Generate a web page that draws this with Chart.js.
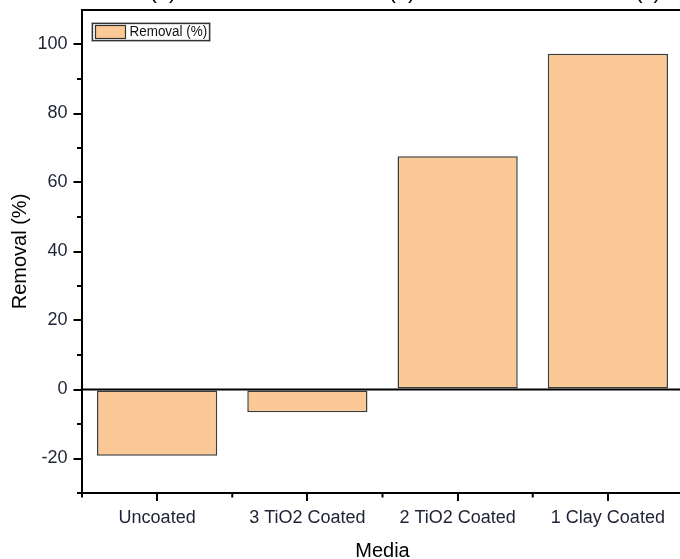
<!DOCTYPE html>
<html>
<head>
<meta charset="utf-8">
<script src="https://cdn.jsdelivr.net/npm/chart.js@4"></script>
<style>
  html, body { margin: 0; padding: 0; background: #fff; overflow: hidden; }
  #wrap { position: absolute; left: 0; top: 0; width: 690px; height: 570px; }
</style>
</head>
<body>
<div id="wrap"><canvas id="c"></canvas></div>
<script>
// ---- data ----
const categories = ['Uncoated', '3 TiO2 Coated', '2 TiO2 Coated', '1 Clay Coated'];
const removal = [-19.2, -6.6, 67.6, 97.3];
const seriesName = 'Removal (%)';
const yMajorTicks = [-20, 0, 20, 40, 60, 80, 100];
const yMinorTicks = [-30, -10, 10, 30, 50, 70, 90];
const yMin = -30, yMax = 110;
const panelLabels = ['(a)', '(b)', '(c)'];

const FONT = 'Arial, "Liberation Sans", sans-serif';
const BAR_FILL = '#FBC995';
const BAR_EDGE = '#3c3c3c';

const extras = {
  id: 'extras',
  afterDatasetsDraw(chart) {
    const ctx = chart.ctx, ca = chart.chartArea;
    const x = chart.scales.x, y = chart.scales.y;
    ctx.save();
    // zero line
    ctx.strokeStyle = '#000'; ctx.lineWidth = 2;
    const y0 = y.getPixelForValue(0);
    ctx.beginPath(); ctx.moveTo(ca.left, y0); ctx.lineTo(ca.right, y0); ctx.stroke();
    // top frame line
    ctx.beginPath(); ctx.moveTo(ca.left - 1, ca.top); ctx.lineTo(ca.right + 10, ca.top); ctx.stroke();
    // minor y ticks
    yMinorTicks.forEach(v => {
      const py = y.getPixelForValue(v);
      ctx.beginPath(); ctx.moveTo(ca.left - 5, py); ctx.lineTo(ca.left, py); ctx.stroke();
    });
    // minor x ticks at category boundaries
    for (let i = 0; i <= categories.length; i++) {
      const px = x.getPixelForValue(i - 0.5);
      ctx.beginPath(); ctx.moveTo(px, ca.bottom); ctx.lineTo(px, ca.bottom + 4.5); ctx.stroke();
    }
    // legend
    const lx = ca.left + 10.5, ly = ca.top + 13.5, lw = 117, lh = 17;
    ctx.strokeStyle = '#c8c8c8'; ctx.lineWidth = 1;
    ctx.strokeRect(lx - 1, ly - 1, lw + 2, lh + 2);
    ctx.strokeStyle = '#333'; ctx.lineWidth = 1.3;
    ctx.fillStyle = '#fff';
    ctx.fillRect(lx, ly, lw, lh);
    ctx.strokeRect(lx, ly, lw, lh);
    ctx.fillStyle = BAR_FILL;
    ctx.fillRect(lx + 3, ly + 2, 30, 13);
    ctx.strokeStyle = '#333'; ctx.lineWidth = 1.2;
    ctx.strokeRect(lx + 3, ly + 2, 30, 13);
    ctx.fillStyle = '#111';
    ctx.font = '14px ' + FONT;
    ctx.textBaseline = 'middle'; ctx.textAlign = 'left';
    ctx.save();
    ctx.translate(lx + 37, ly + lh / 2 + 0.5);
    ctx.scale(0.96, 1);
    ctx.fillText(seriesName, 0, 0);
    ctx.restore();
    // clipped panel labels at the very top
    ctx.fillStyle = '#000';
    ctx.font = '22px ' + FONT;
    ctx.textAlign = 'center'; ctx.textBaseline = 'alphabetic';
    const pxs = [163, 402, 648];
    panelLabels.forEach((t, i) => ctx.fillText(t, pxs[i], -2));
    ctx.restore();
  }
};

new Chart(document.getElementById('c'), {
  type: 'bar',
  data: {
    labels: categories,
    datasets: [{
      label: seriesName,
      data: removal,
      backgroundColor: BAR_FILL,
      borderColor: BAR_EDGE,
      borderWidth: 1.5,
      borderSkipped: false,
      barPercentage: 0.8,
      categoryPercentage: 1.0
    }]
  },
  options: {
    responsive: true,
    maintainAspectRatio: false,
    animation: false,
    devicePixelRatio: 1,
    layout: { padding: { top: 10, left: 0, right: 7, bottom: 0 } },
    plugins: { legend: { display: false }, tooltip: { enabled: false } },
    scales: {
      x: {
        offset: true,
        afterFit(s) { s.height = 77; s.paddingLeft = 0; s.paddingRight = 0; },
        grid: { offset: false, drawOnChartArea: false, drawTicks: true, tickLength: 8, color: '#000', lineWidth: 2 },
        border: { display: true, color: '#000', width: 2 },
        ticks: { color: '#1e2233', font: { family: FONT, size: 18 }, padding: 6, maxRotation: 0, autoSkip: false },
        title: { display: true, text: 'Media', color: '#000', font: { family: FONT, size: 20 }, padding: { top: 0, bottom: 7 } }
      },
      y: {
        min: yMin, max: yMax,
        afterFit(s) { s.width = 82; s.paddingTop = 0; s.paddingBottom = 0; },
        afterBuildTicks(s) { s.ticks = yMajorTicks.map(v => ({ value: v })); },
        grid: { drawOnChartArea: false, drawTicks: true, tickLength: 8.5, color: '#000', lineWidth: 2 },
        border: { display: true, color: '#000', width: 2 },
        ticks: { color: '#1e2233', font: { family: FONT, size: 18 }, padding: 6 },
        title: { display: true, text: 'Removal (%)', color: '#000', font: { family: FONT, size: 20 }, padding: { top: 8, bottom: 0 } }
      }
    }
  },
  plugins: [extras]
});
</script>
</body>
</html>
